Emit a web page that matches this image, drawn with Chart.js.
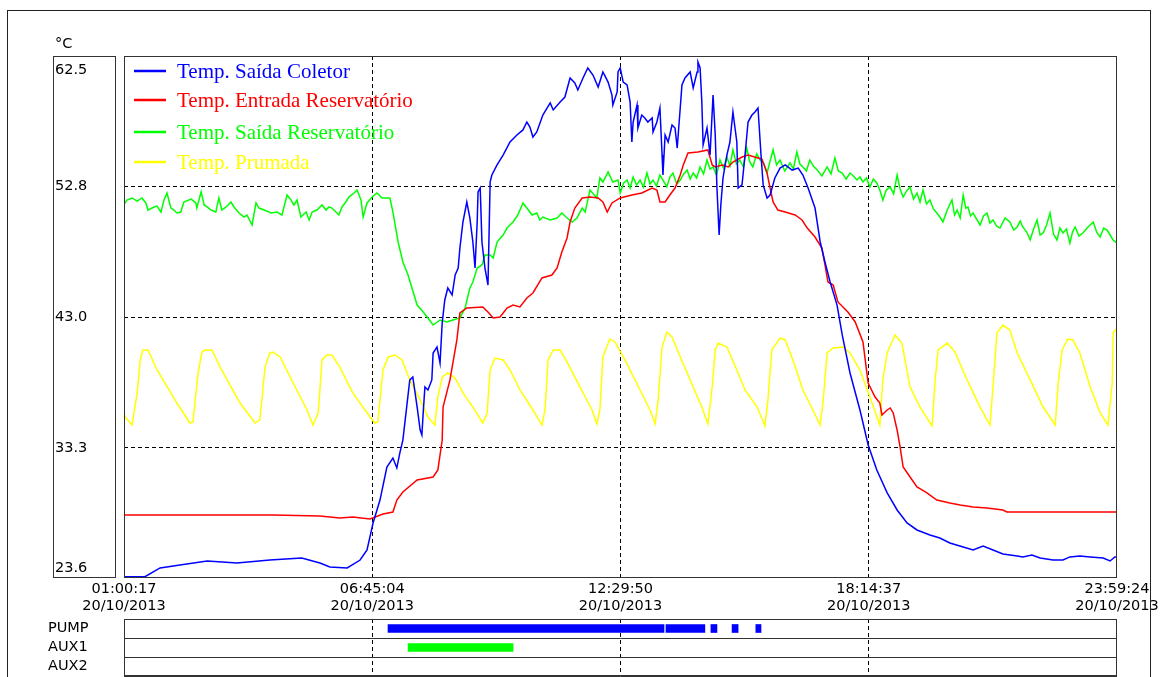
<!DOCTYPE html>
<html>
<head>
<meta charset="utf-8">
<script src="https://cdn.jsdelivr.net/npm/chart.js@4.4.0/dist/chart.umd.min.js"></script>
<style>
  body { margin: 0; background: #fff; }
  #wrap { position: relative; width: 1164px; height: 677px; overflow: hidden; }
  #frame { position: absolute; left: 7px; top: 10px; width: 1144px; height: 700px; border: 1px solid #222; box-sizing: border-box; }
  canvas { position: absolute; left: 0; }
</style>
</head>
<body>
<div id="wrap">
  <div id="frame"></div>
  <canvas id="main" width="1164" height="615" style="top:0"></canvas>
  <canvas id="status" width="1164" height="100" style="top:600px"></canvas>
</div>
<script>
// time in hours of 20/10/2013, temperature in °C
const coletor = [
  [1.00,23.7],[1.49,23.7],[1.84,24.35],[2.30,24.57],[2.93,24.87],[3.62,24.72],[4.38,24.94],[5.12,25.09],
  [5.54,24.72],[5.77,24.42],[6.17,24.35],[6.47,24.94],[6.63,25.69],[6.77,27.7],[6.93,29.41],[7.09,31.87],
  [7.23,32.54],[7.32,31.8],[7.39,32.92],[7.46,33.88],[7.62,38.36],[7.69,38.58],[7.79,36.34],[7.86,34.63],
  [7.90,34.26],[7.93,35.9],[7.97,37.83],[8.04,37.61],[8.13,38.36],[8.16,40.37],[8.25,40.81],[8.32,39.62],
  [8.37,42.6],[8.43,44.32],[8.50,45.21],[8.60,44.69],[8.67,46.18],[8.74,46.7],[8.78,48.19],[8.85,50.13],
  [8.94,51.62],[9.01,50.43],[9.08,48.64],[9.13,46.7],[9.18,50.13],[9.20,52.37],[9.25,52.66],[9.29,48.64],
  [9.36,46.7],[9.43,45.43],[9.48,53.11],[9.52,53.63],[9.64,54.38],[9.78,55.12],[9.94,56.09],[10.10,56.61],
  [10.24,56.99],[10.33,57.58],[10.40,57.21],[10.47,56.46],[10.56,56.84],[10.70,58.1],[10.87,59.0],[10.94,58.48],
  [11.10,59.07],[11.21,59.44],[11.33,60.86],[11.44,60.49],[11.51,59.97],[11.63,60.86],[11.74,61.61],[11.86,61.08],
  [11.98,60.19],[12.09,61.31],[12.21,60.56],[12.30,59.59],[12.32,58.85],[12.42,59.82],[12.44,61.31],[12.49,61.61],
  [12.56,60.56],[12.65,60.34],[12.72,59.07],[12.76,56.09],[12.79,57.58],[12.88,58.85],[12.90,57.13],[12.99,58.1],
  [13.06,57.88],[13.13,57.58],[13.23,57.88],[13.25,56.84],[13.34,57.58],[13.41,58.62],[13.46,55.12],[13.48,53.63],
  [13.53,56.61],[13.60,56.09],[13.69,57.36],[13.76,57.13],[13.81,55.64],[13.88,58.62],[13.92,60.34],[13.99,60.86],
  [14.11,61.31],[14.18,60.12],[14.27,61.31],[14.29,62.05],[14.34,61.61],[14.38,59.07],[14.41,55.87],[14.50,57.13],
  [14.57,55.12],[14.64,59.59],[14.69,56.61],[14.73,52.66],[14.78,49.16],[14.82,51.4],[14.87,53.41],[14.96,55.12],
  [15.03,56.09],[15.10,58.33],[15.19,56.09],[15.22,52.66],[15.31,52.89],[15.38,55.12],[15.45,57.58],[15.54,58.1],
  [15.61,58.33],[15.68,58.62],[15.75,55.12],[15.80,52.89],[15.89,51.92],[15.96,52.14],[16.07,53.41],[16.19,54.15],
  [16.31,54.38],[16.47,54.0],[16.61,54.15],[16.72,53.63],[16.84,52.66],[17.00,51.17],[17.12,48.64],[17.23,47.15],
  [17.35,45.66],[17.51,43.94],[17.63,41.71],[17.81,38.88],[18.04,36.12],[18.23,33.51],[18.43,31.65],[18.67,29.94],
  [18.90,28.67],[19.13,27.7],[19.36,27.18],[19.66,26.8],[19.89,26.58],[20.12,26.21],[20.43,25.91],[20.66,25.69],
  [20.89,25.98],[21.12,25.69],[21.35,25.39],[21.68,25.24],[21.81,25.17],[22.02,25.31],[22.21,25.09],[22.51,24.94],
  [22.74,24.94],[22.90,25.17],[23.13,25.24],[23.37,25.17],[23.67,25.09],[23.83,24.87],[23.94,25.17],[23.99,25.17]
];
const entrada = [
  [1.00,28.3],[4.45,28.3],[5.54,28.22],[6.00,28.07],[6.30,28.15],[6.70,28.0],[7.00,28.37],[7.23,28.52],
  [7.32,29.41],[7.46,30.01],[7.79,30.9],[8.16,31.13],[8.27,31.65],[8.37,33.88],[8.39,36.34],[8.55,38.36],
  [8.71,41.34],[8.78,43.35],[8.94,43.72],[9.31,43.8],[9.43,43.42],[9.55,42.98],[9.71,43.05],[9.87,43.72],
  [10.01,43.94],[10.17,43.8],[10.33,44.47],[10.47,44.84],[10.68,45.96],[10.91,46.18],[11.03,46.7],[11.14,47.89],
  [11.26,48.94],[11.33,50.13],[11.44,51.17],[11.61,51.92],[11.79,51.99],[11.98,51.92],[12.09,51.62],[12.19,50.87],
  [12.30,51.55],[12.49,51.92],[12.76,52.14],[12.99,52.29],[13.23,52.66],[13.34,52.51],[13.41,51.62],[13.53,51.62],
  [13.64,52.14],[13.76,52.66],[13.88,53.63],[13.95,54.38],[14.06,55.27],[14.29,55.35],[14.52,55.5],[14.62,54.38],
  [14.69,54.23],[14.85,54.38],[14.99,54.23],[15.10,54.6],[15.31,54.97],[15.45,55.12],[15.68,54.9],[15.77,54.82],
  [15.89,53.78],[15.96,52.66],[16.03,51.62],[16.14,51.02],[16.31,50.87],[16.54,50.65],[16.70,50.28],[16.82,49.68],
  [17.00,49.01],[17.16,48.19],[17.23,46.93],[17.30,45.66],[17.42,45.43],[17.53,44.17],[17.76,43.42],[17.93,42.68],
  [18.11,41.19],[18.23,38.13],[18.39,37.09],[18.50,36.64],[18.55,35.75],[18.67,36.12],[18.74,36.27],[18.81,35.9],
  [18.90,34.63],[18.97,33.36],[19.04,31.87],[19.20,31.13],[19.36,30.38],[19.59,29.94],[19.82,29.41],[20.12,29.19],
  [20.36,29.04],[20.66,28.89],[20.98,28.82],[21.35,28.67],[21.44,28.52],[23.99,28.52]
];
const saida = [
  [1.00,51.4],[1.07,51.77],[1.19,51.92],[1.31,51.69],[1.42,51.92],[1.51,51.55],[1.56,51.02],[1.70,51.25],
  [1.77,51.32],[1.86,50.87],[1.93,51.77],[2.00,52.29],[2.09,51.17],[2.16,51.02],[2.23,50.8],[2.32,50.87],
  [2.39,51.62],[2.56,51.84],[2.67,51.55],[2.69,51.17],[2.79,52.37],[2.86,51.4],[2.93,51.25],[3.02,51.02],
  [3.13,50.87],[3.20,51.92],[3.27,51.02],[3.37,51.25],[3.48,51.62],[3.55,51.25],[3.67,50.8],[3.78,50.5],
  [3.85,50.65],[3.97,49.91],[4.06,51.55],[4.13,51.17],[4.25,51.02],[4.41,50.8],[4.55,50.87],[4.66,50.65],
  [4.78,52.14],[4.87,51.77],[4.94,51.4],[5.01,51.77],[5.10,50.5],[5.22,50.87],[5.29,50.28],[5.36,50.87],
  [5.47,51.02],[5.59,51.4],[5.68,51.02],[5.75,51.25],[5.82,51.17],[5.91,50.87],[5.98,50.65],[6.05,51.25],
  [6.14,51.62],[6.21,51.99],[6.33,52.29],[6.40,52.51],[6.49,51.77],[6.54,50.5],[6.63,51.55],[6.75,51.99],
  [6.86,52.29],[6.98,51.92],[7.16,51.92],[7.23,50.87],[7.35,48.64],[7.46,47.15],[7.58,46.18],[7.67,45.21],
  [7.79,43.94],[7.93,43.42],[8.04,42.98],[8.16,42.45],[8.32,42.83],[8.48,42.68],[8.62,42.83],[8.78,42.98],
  [8.90,43.72],[9.01,45.21],[9.08,45.66],[9.18,46.7],[9.29,46.93],[9.36,47.67],[9.48,47.67],[9.55,47.45],
  [9.64,48.64],[9.78,49.16],[9.87,49.68],[10.01,50.13],[10.12,50.65],[10.24,51.55],[10.33,51.17],[10.45,50.65],
  [10.56,50.8],[10.63,50.28],[10.70,50.5],[10.87,50.28],[11.03,50.43],[11.14,50.8],[11.26,50.43],[11.38,50.13],
  [11.49,50.43],[11.61,51.17],[11.68,50.87],[11.79,52.51],[11.95,51.92],[12.02,53.41],[12.09,53.11],[12.21,53.86],
  [12.32,53.11],[12.44,53.26],[12.49,52.29],[12.57,53.04],[12.65,53.26],[12.72,52.66],[12.79,53.48],[12.87,52.89],
  [12.95,53.26],[13.03,52.74],[13.11,53.78],[13.18,52.96],[13.25,53.26],[13.33,52.81],[13.41,53.63],[13.49,53.19],
  [13.57,52.74],[13.64,53.48],[13.71,53.78],[13.80,52.96],[13.88,53.26],[13.96,53.71],[14.04,54.0],[14.11,53.33],
  [14.18,53.78],[14.26,53.41],[14.34,54.23],[14.42,53.71],[14.50,54.75],[14.57,54.08],[14.64,54.23],[14.72,53.63],
  [14.80,54.75],[14.88,54.15],[14.96,54.97],[15.03,54.3],[15.10,55.5],[15.18,54.45],[15.26,54.75],[15.34,54.23],
  [15.42,55.64],[15.49,54.6],[15.56,54.23],[15.65,55.2],[15.73,54.75],[15.81,54.53],[15.89,53.78],[15.96,54.68],
  [16.03,55.5],[16.11,54.38],[16.19,54.75],[16.30,53.93],[16.42,54.53],[16.50,54.08],[16.58,55.35],[16.65,54.45],
  [16.72,54.23],[16.80,53.93],[16.88,54.75],[16.96,54.3],[17.05,54.0],[17.16,53.56],[17.28,54.23],[17.37,53.71],
  [17.46,54.9],[17.54,53.93],[17.63,53.78],[17.72,53.33],[17.81,53.78],[17.89,53.56],[17.97,53.26],[18.04,53.48],
  [18.11,53.11],[18.19,53.41],[18.27,52.74],[18.35,53.33],[18.43,53.04],[18.50,52.51],[18.57,51.77],[18.65,52.51],
  [18.74,52.74],[18.82,52.22],[18.90,53.63],[18.97,52.59],[19.04,51.99],[19.12,52.44],[19.20,52.74],[19.28,51.84],
  [19.36,52.29],[19.43,51.62],[19.50,52.51],[19.58,51.47],[19.66,51.77],[19.74,51.1],[19.82,50.8],[19.89,50.5],
  [19.96,50.13],[20.06,51.02],[20.17,51.77],[20.23,50.65],[20.29,51.02],[20.36,50.43],[20.43,52.14],[20.49,51.17],
  [20.54,51.25],[20.60,50.58],[20.66,50.8],[20.74,50.35],[20.82,49.91],[20.90,50.58],[20.98,50.8],[21.05,50.05],
  [21.12,50.28],[21.20,49.83],[21.28,49.68],[21.40,50.43],[21.51,50.13],[21.60,49.53],[21.68,49.76],[21.75,50.2],
  [21.81,49.76],[21.90,49.38],[21.98,48.79],[22.06,49.61],[22.14,50.28],[22.21,49.16],[22.28,49.31],[22.36,49.91],
  [22.44,50.8],[22.52,49.23],[22.60,48.79],[22.67,49.68],[22.74,49.31],[22.82,49.61],[22.90,48.56],[22.96,49.38],
  [23.02,49.76],[23.11,49.08],[23.20,49.31],[23.32,49.76],[23.44,50.13],[23.52,49.38],[23.60,49.01],[23.68,49.68],
  [23.76,49.53],[23.83,49.16],[23.90,48.79],[23.99,48.56]
];
const prumada = [
  [1.00,35.97],[1.03,35.6],[1.19,35.0],[1.31,37.39],[1.38,39.85],[1.44,40.59],[1.56,40.59],[1.77,39.1],
  [2.23,36.64],[2.53,35.15],[2.60,35.23],[2.72,38.88],[2.81,40.44],[2.88,40.59],[3.04,40.59],[3.23,39.32],
  [3.69,36.64],[4.04,35.15],[4.15,35.38],[4.27,39.32],[4.38,40.37],[4.45,40.44],[4.62,40.07],[4.92,38.13],
  [5.24,36.12],[5.38,35.0],[5.50,35.9],[5.59,39.85],[5.70,40.22],[5.82,40.22],[6.00,39.32],[6.30,37.39],
  [6.70,35.6],[6.81,35.15],[6.88,35.23],[7.00,39.1],[7.12,40.07],[7.28,40.22],[7.44,39.85],[7.62,38.36],
  [7.86,36.87],[8.04,35.6],[8.20,35.0],[8.27,37.09],[8.37,38.58],[8.50,38.88],[8.67,38.5],[8.85,37.39],
  [9.08,36.34],[9.31,35.15],[9.41,35.9],[9.48,39.1],[9.59,39.99],[9.78,39.85],[9.94,39.1],[10.17,37.61],
  [10.47,36.12],[10.68,35.0],[10.75,36.12],[10.82,39.85],[10.94,40.59],[11.10,40.59],[11.26,39.7],[11.56,37.83],
  [11.84,36.12],[11.95,35.08],[12.02,36.12],[12.09,40.07],[12.25,41.41],[12.37,41.19],[12.60,39.85],[12.95,37.61],
  [13.18,36.12],[13.30,35.08],[13.37,36.87],[13.46,40.81],[13.57,41.93],[13.69,41.56],[13.88,40.07],[14.18,37.83],
  [14.38,36.34],[14.52,35.08],[14.62,37.83],[14.69,40.59],[14.76,41.11],[14.96,40.81],[15.19,39.1],[15.38,37.61],
  [15.66,36.34],[15.84,34.93],[15.91,36.87],[16.00,40.59],[16.19,41.49],[16.31,41.34],[16.49,39.85],[16.72,37.61],
  [16.95,36.12],[17.12,35.0],[17.19,36.87],[17.28,40.37],[17.42,40.74],[17.65,40.81],[17.81,40.37],[18.04,39.1],
  [18.27,37.09],[18.50,35.0],[18.57,38.36],[18.67,40.37],[18.85,41.71],[19.01,41.11],[19.20,37.83],[19.43,36.34],
  [19.71,34.93],[19.78,38.36],[19.85,40.59],[20.06,41.11],[20.24,40.44],[20.52,38.36],[20.82,36.34],[21.05,35.0],
  [21.12,37.83],[21.21,41.86],[21.35,42.45],[21.51,42.08],[21.68,40.37],[21.98,38.36],[22.28,36.34],[22.56,35.0],
  [22.63,38.13],[22.72,40.59],[22.85,41.41],[22.97,41.34],[23.13,40.37],[23.37,37.83],[23.60,35.9],[23.78,35.0],
  [23.88,38.13],[23.90,41.86],[23.99,42.23]
];

const seriesNames = ['Temp. Saída Coletor', 'Temp. Entrada Reservatório', 'Temp. Saída Reservatório', 'Temp. Prumada'];
const seriesColors = ['#0000ff', '#ff0000', '#00ff00', '#ffff00'];

const xTickHours = [1.004722, 6.751111, 12.497222, 18.243611, 23.99];
const xTickLabels = [
  ['01:00:17', '20/10/2013'], ['06:45:04', '20/10/2013'], ['12:29:50', '20/10/2013'],
  ['18:14:37', '20/10/2013'], ['23:59:24', '20/10/2013']
];
const yTicks = [23.6, 33.3, 43.0, 52.8, 62.5];

const statusRows = ['PUMP', 'AUX1', 'AUX2'];
const pumpOn = [[7.116, 13.505], [13.55, 14.45], [14.59, 14.73], [15.08, 15.22], [15.63, 15.75]];
const aux1On = [[7.58, 10.01]];

const tickFont = { family: 'DejaVu Sans', size: 14.5, lineHeight: 1.17 };
const innerOnly = n => ctx => (ctx.index === 0 || ctx.index === n - 1) ? 'rgba(0,0,0,0)' : '#000';
const toXY = pts => pts.map(p => ({ x: p[0], y: p[1] }));

const boxPlugin = {
  id: 'box',
  afterDraw(chart) {
    const { ctx, chartArea: a } = chart;
    ctx.save();
    ctx.strokeStyle = '#333';
    ctx.lineWidth = 1;
    ctx.strokeRect(a.left + 0.5, a.top + 0.5, a.right - a.left - 1, a.bottom - a.top - 1);
    ctx.restore();
  }
};

// y labels in their own box, unit and legend inside the plot
const decoPlugin = {
  id: 'deco',
  afterDraw(chart) {
    const { ctx, chartArea: a } = chart;
    const y = chart.scales.y;
    ctx.save();
    ctx.strokeStyle = '#333';
    ctx.lineWidth = 1;
    ctx.strokeRect(53.5, a.top + 0.5, 62, a.bottom - a.top - 1);

    ctx.fillStyle = '#000';
    ctx.font = '14.5px "DejaVu Sans"';
    ctx.textAlign = 'left';
    ctx.textBaseline = 'middle';
    yTicks.forEach((v, i) => {
      let py = y.getPixelForValue(v);
      if (i === yTicks.length - 1) py += 14;
      if (i === 0) py -= 10;
      ctx.fillText(v.toFixed(1), 55, py);
    });
    ctx.fillText('°C', 55, 44);

    const rows = [71, 100, 132, 162];
    ctx.font = '21px "Liberation Serif"';
    chart.data.datasets.forEach((ds, i) => {
      ctx.strokeStyle = ds.borderColor;
      ctx.lineWidth = 2.5;
      ctx.beginPath();
      ctx.moveTo(134, rows[i]);
      ctx.lineTo(166, rows[i]);
      ctx.stroke();
      ctx.fillStyle = ds.borderColor;
      ctx.fillText(ds.label, 177, rows[i] + 1);
    });
    ctx.restore();
  }
};

new Chart(document.getElementById('main'), {
  type: 'line',
  data: {
    datasets: [coletor, entrada, saida, prumada].map((pts, i) => ({
      label: seriesNames[i],
      data: toXY(pts),
      borderColor: seriesColors[i],
      borderWidth: 1.5,
      pointRadius: 0,
      fill: false,
      tension: 0
    }))
  },
  options: {
    responsive: false,
    animation: false,
    layout: { padding: { left: 124, right: 47, top: 56, bottom: 0 } },
    plugins: { legend: { display: false }, tooltip: { enabled: false } },
    scales: {
      x: {
        type: 'linear',
        min: xTickHours[0],
        max: xTickHours[xTickHours.length - 1],
        afterBuildTicks: s => { s.ticks = xTickHours.map(v => ({ value: v })); },
        afterFit: s => { s.height = 37; },
        ticks: {
          autoSkip: false, maxRotation: 0, padding: 3, color: '#000', font: tickFont,
          callback: (v, i) => xTickLabels[i]
        },
        grid: { color: innerOnly(xTickHours.length), drawTicks: false },
        border: { display: false, dash: [4, 3] }
      },
      y: {
        min: yTicks[0],
        max: yTicks[yTicks.length - 1],
        afterBuildTicks: s => { s.ticks = yTicks.map(v => ({ value: v })); },
        afterFit: s => { s.width = 0; },
        ticks: { display: false },
        grid: { color: innerOnly(yTicks.length), drawTicks: false },
        border: { display: false, dash: [4, 3] }
      }
    }
  },
  plugins: [boxPlugin, decoPlugin]
});

new Chart(document.getElementById('status'), {
  type: 'bar',
  data: {
    labels: statusRows,
    datasets: [
      { data: pumpOn.map(r => ({ x: r, y: statusRows[0] })), backgroundColor: '#0000ff' },
      { data: aux1On.map(r => ({ x: r, y: statusRows[1] })), backgroundColor: '#00ff00' }
    ]
  },
  options: {
    indexAxis: 'y',
    responsive: false,
    animation: false,
    layout: { padding: { left: 48, right: 47, top: 19, bottom: 24 } },
    datasets: { bar: { barThickness: 8, grouped: false } },
    plugins: { legend: { display: false }, tooltip: { enabled: false } },
    scales: {
      x: {
        type: 'linear',
        min: xTickHours[0],
        max: xTickHours[xTickHours.length - 1],
        afterBuildTicks: s => { s.ticks = xTickHours.map(v => ({ value: v })); },
        afterFit: s => { s.height = 0; },
        ticks: { display: false },
        grid: { color: innerOnly(xTickHours.length), drawTicks: false },
        border: { display: false, dash: [4, 3] }
      },
      y: {
        afterFit: s => { s.width = 76; },
        ticks: { autoSkip: false, crossAlign: 'far', color: '#000', font: tickFont },
        grid: { color: '#333', drawTicks: false },
        border: { display: false }
      }
    }
  },
  plugins: [boxPlugin]
});
</script>
</body>
</html>
